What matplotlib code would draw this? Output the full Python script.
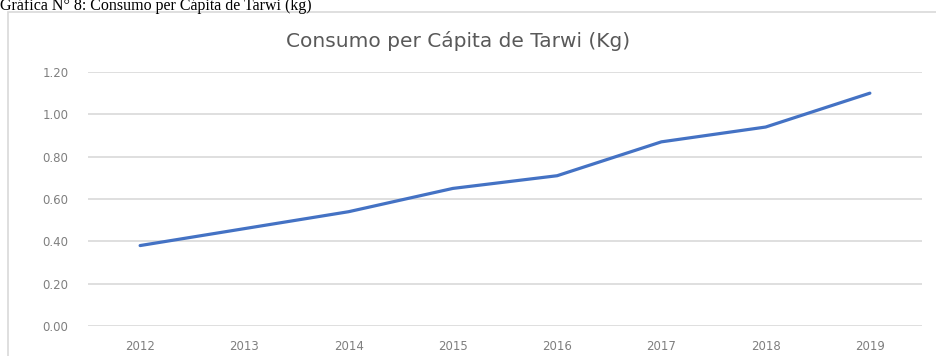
import matplotlib.pyplot as plt
from matplotlib.patches import Rectangle

# Consumo per cápita de tarwi por año (kg)
years = ["2012", "2013", "2014", "2015", "2016", "2017", "2018", "2019"]
consumo = [0.38, 0.46, 0.54, 0.65, 0.71, 0.87, 0.94, 1.10]
yticks = [0.0, 0.2, 0.4, 0.6, 0.8, 1.0, 1.2]

W, H = 937, 356
fig = plt.figure(figsize=(W / 100, H / 100), dpi=100)
fig.patch.set_facecolor("white")

# chart frame
frame = Rectangle((8 / W, -0.2), 1.2, 1 - 12 / H + 0.2, transform=fig.transFigure,
                  facecolor="white", edgecolor="#d9d9d9", linewidth=1.2, zorder=0)
fig.patches.append(frame)

# caption of the document above the frame
fig.text(0.0, 1 - 10.5 / H, "Gráfica N° 8: Consumo per Cápita de Tarwi (kg)",
         family="Liberation Serif", fontsize=11.5, color="black",
         ha="left", va="baseline", zorder=2)

# chart title
fig.text(458 / W, 1 - 41 / H, "Consumo per Cápita de Tarwi (Kg)", color="#595959",
         fontsize=14.5, ha="center", va="center", zorder=2)

ax = fig.add_axes([88 / W, 1 - 326 / H, (922 - 88) / W, (326 - 72) / H])
ax.set_zorder(1)
ax.set_facecolor("none")

x = list(range(len(years)))
ax.plot(x, consumo, color="#4472c4", linewidth=2.3, solid_capstyle="round", zorder=3)

ax.set_xlim(-0.5, len(years) - 0.5)
ax.set_ylim(0, 1.2)
ax.set_yticks(yticks)
ax.set_yticklabels([f"{v:.2f}" for v in yticks])
ax.set_xticks(x)
ax.set_xticklabels(years)

ax.grid(axis="y", color="#d9d9d9", linewidth=1.2)
ax.set_axisbelow(True)
for s in ax.spines.values():
    s.set_visible(False)
ax.tick_params(axis="both", length=0, colors="#7f7f7f", labelsize=8.5)
ax.tick_params(axis="y", pad=14)
ax.tick_params(axis="x", pad=10)

fig.savefig("out.png", dpi=100)
